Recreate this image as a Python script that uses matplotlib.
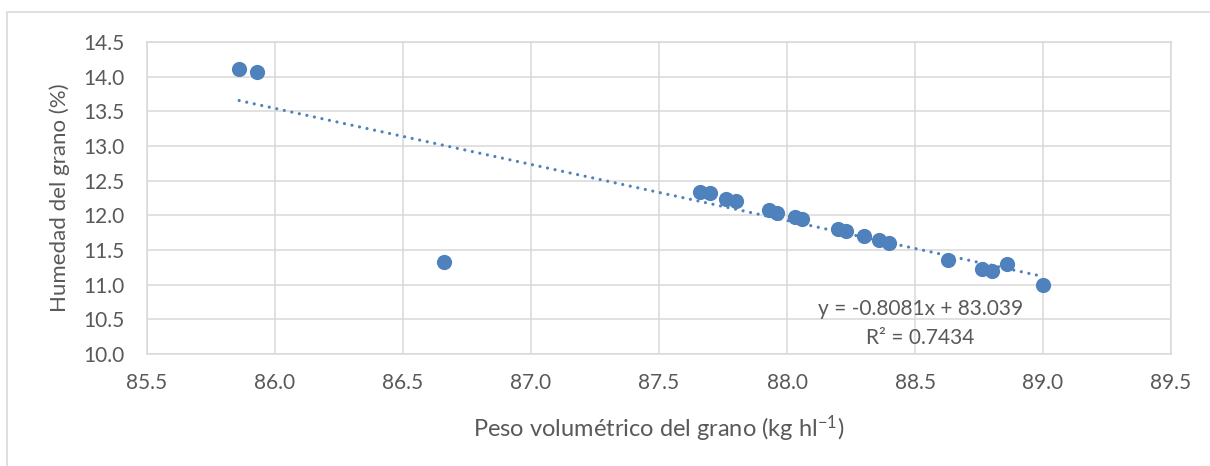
import matplotlib.pyplot as plt
from matplotlib.patches import Rectangle

# datos
peso = [85.86, 85.93, 86.66, 87.66, 87.70, 87.76, 87.80, 87.93, 87.96, 88.03, 88.06,
        88.20, 88.23, 88.30, 88.36, 88.40, 88.63, 88.76, 88.80, 88.86, 89.00]
humedad = [14.11, 14.07, 11.33, 12.34, 12.32, 12.24, 12.21, 12.07, 12.04, 11.97, 11.94,
           11.81, 11.77, 11.70, 11.64, 11.60, 11.36, 11.23, 11.20, 11.30, 11.00]

# linea de tendencia (Excel)
pendiente = -0.8081
intercepto = 83.039
r2 = 0.7434

x_ticks = [85.5, 86.0, 86.5, 87.0, 87.5, 88.0, 88.5, 89.0, 89.5]
y_ticks = [10.0, 10.5, 11.0, 11.5, 12.0, 12.5, 13.0, 13.5, 14.0, 14.5]

azul = "#4F81BD"
gris_txt = "#595959"
gris_lin = "#D9D9D9"

plt.rcParams["font.family"] = ["Lato", "DejaVu Sans"]
plt.rcParams["mathtext.default"] = "regular"

fig = plt.figure(figsize=(12.1, 4.66), dpi=100)
ax = fig.add_axes([147 / 1210, 1 - 354 / 466, (1171 - 147) / 1210, (354 - 42) / 466])

# borde del area del grafico
fig.add_artist(Rectangle((7 / 1210, -0.1), 2, (466 - 12) / 466 + 0.1,
                         transform=fig.transFigure, fill=False,
                         edgecolor=gris_lin, linewidth=1.2))

ax.scatter(peso, humedad, s=120, color=azul, zorder=3, linewidths=0)

x_min, x_max = min(peso), max(peso)
ax.plot([x_min, x_max], [pendiente * x_min + intercepto, pendiente * x_max + intercepto],
        color=azul, linewidth=2.3, dashes=(0.01, 2.4), dash_capstyle="round", zorder=2)

ax.set_xlim(85.5, 89.5)
ax.set_ylim(10.0, 14.5)
ax.set_xticks(x_ticks)
ax.set_yticks(y_ticks)
ax.set_xticklabels([f"{v:.1f}" for v in x_ticks])
ax.set_yticklabels([f"{v:.1f}" for v in y_ticks])
ax.grid(True, color=gris_lin, linewidth=1.1)
ax.set_axisbelow(True)
for s in ax.spines.values():
    s.set_color(gris_lin)
    s.set_linewidth(1.1)
ax.tick_params(length=0, labelsize=15, colors=gris_txt)
ax.tick_params(axis="x", pad=14)
ax.tick_params(axis="y", pad=16)

ax.set_xlabel("Peso volumétrico del grano (kg hl$^{-1}$)", fontsize=17, color=gris_txt)
ax.xaxis.set_label_coords(0.5, -0.19)
ax.set_ylabel("Humedad del grano (%)", fontsize=16, color=gris_txt, va="center")
ax.yaxis.set_label_coords(-0.085, 0.5)

ax.text(88.52, 10.65, f"y = {pendiente}x + {intercepto}", fontsize=15,
        color=gris_txt, ha="center", va="center")
ax.text(88.52, 10.23, f"R² = {r2}", fontsize=15, color=gris_txt,
        ha="center", va="center")

fig.savefig("out.png", dpi=100)
